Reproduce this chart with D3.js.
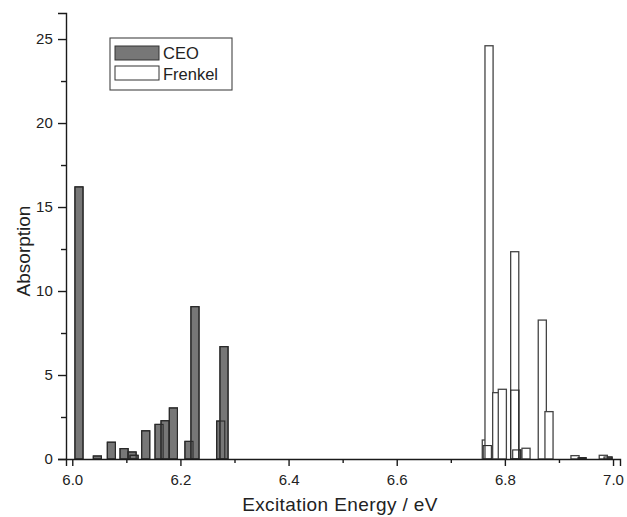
<!DOCTYPE html>
<html>
<head>
<meta charset="utf-8">
<script src="https://cdn.jsdelivr.net/npm/d3@7"></script>
<style>
  body { margin: 0; background: #fff; }
  text { font-family: "Liberation Sans", Arial, Helvetica, sans-serif; fill: #222; }
</style>
</head>
<body>
<div id="chart"></div>
<script>
// values (energy in eV, absorption)
const ceoEnergy = [6.0124, 6.0464, 6.0723, 6.0958, 6.1106, 6.1143, 6.1358, 6.1605, 6.1716, 6.187,
                   6.2158, 6.2269, 6.2745, 6.2806, 6.7675, 6.8182, 6.822, 6.9427, 6.9908];
const ceoAbs    = [16.2, 0.18, 1.0, 0.62, 0.42, 0.22, 1.68, 2.06, 2.28, 3.04,
                   1.05, 9.07, 2.26, 6.69, 0.8, 4.1, 0.54, 0.08, 0.12];
const frenkelEnergy = [6.7657, 6.7707, 6.7849, 6.7953, 6.8182, 6.8391, 6.8692, 6.8816, 6.9297, 6.982];
const frenkelAbs    = [1.13, 24.6, 3.95, 4.15, 12.34, 0.64, 8.27, 2.82, 0.2, 0.22];
const xMajor = [6.0, 6.2, 6.4, 6.6, 6.8, 7.0];
const xMinor = [6.1, 6.3, 6.5, 6.7, 6.9];
const yMajor = [0, 5, 10, 15, 20, 25];
const yMinor = [2.5, 7.5, 12.5, 17.5, 22.5];
const seriesNames = ["CEO", "Frenkel"];

const width = 627, height = 517;
const barW = 0.015; // eV

const ceo = ceoEnergy.map((e, i) => ({e: e, v: ceoAbs[i]}));
const frenkel = frenkelEnergy.map((e, i) => ({e: e, v: frenkelAbs[i]}));

const svg = d3.select('#chart').append('svg')
  .attr('width', width).attr('height', height);

const x = d3.scaleLinear().domain([5.9884, 7.0129]).range([66, 620]);
const y = d3.scaleLinear().domain([0, 26.55]).range([459, 13]);

function bars(g, data, cls) {
  return g.selectAll('rect.' + cls)
    .data(data)
    .enter()
    .append('rect')
      .attr('class', cls)
      .attr('x', d => x(d.e - barW / 2))
      .attr('width', d => x(d.e + barW / 2) - x(d.e - barW / 2))
      .attr('y', d => y(d.v))
      .attr('height', d => y(0) - y(d.v));
}

const plot = svg.append('g');
// CEO bars, then Frenkel (white) on top, then CEO outlines again
bars(plot, ceo, 'ceo').attr('fill', '#777').attr('stroke', '#2a2a2a').attr('stroke-width', 1.1);
bars(plot, frenkel, 'fr').attr('fill', '#fff').attr('stroke', '#444').attr('stroke-width', 1.3);
bars(plot, ceo, 'ceo2').attr('fill', 'none').attr('stroke', '#2a2a2a').attr('stroke-width', 1.1);

// x axis
const xAxis = svg.append('g').attr('transform', 'translate(0,' + y(0) + ')')
  .call(d3.axisBottom(x).tickValues(xMajor).tickFormat(d3.format('.1f')).tickSizeOuter(0).tickSize(7));
xAxis.selectAll('text').attr('font-size', 15).attr('dy', '1.05em');
svg.append('g').attr('transform', 'translate(0,' + y(0) + ')')
  .call(d3.axisBottom(x).tickValues(xMinor).tickFormat('').tickSizeOuter(0).tickSize(4))
  .select('.domain').remove();

// y axis
const yAxis = svg.append('g').attr('transform', 'translate(66,0)')
  .call(d3.axisLeft(y).tickValues(yMajor).tickSizeOuter(0).tickSize(8));
yAxis.selectAll('text').attr('font-size', 15).attr('dx', '-0.15em');
svg.append('g').attr('transform', 'translate(66,0)')
  .call(d3.axisLeft(y).tickValues(yMinor).tickFormat('').tickSizeOuter(0).tickSize(5))
  .select('.domain').remove();

svg.selectAll('.domain, .tick line').attr('stroke', '#1a1a1a').attr('stroke-width', 1.4);

// axis titles
svg.append('text')
  .attr('x', 340).attr('y', 511)
  .attr('text-anchor', 'middle')
  .attr('font-size', 19)
  .attr('letter-spacing', '0.4px')
  .text('Excitation Energy / eV');
svg.append('text')
  .attr('transform', 'translate(30,251) rotate(-90)')
  .attr('text-anchor', 'middle')
  .attr('font-size', 19)
  .text('Absorption');

// legend
const lg = svg.append('g').attr('transform', 'translate(110,38)');
lg.append('rect').attr('width', 122).attr('height', 52)
  .attr('fill', '#fff').attr('stroke', '#444').attr('stroke-width', 1.1);
const fills = ['#777', '#fff'];
seriesNames.forEach((name, i) => {
  lg.append('rect').attr('x', 5).attr('y', 8 + i * 20).attr('width', 44).attr('height', 14)
    .attr('fill', fills[i]).attr('stroke', '#333').attr('stroke-width', 1);
  lg.append('text').attr('x', 53).attr('y', 21 + i * 21).attr('font-size', 16.5).text(name);
});
</script>
</body>
</html>
